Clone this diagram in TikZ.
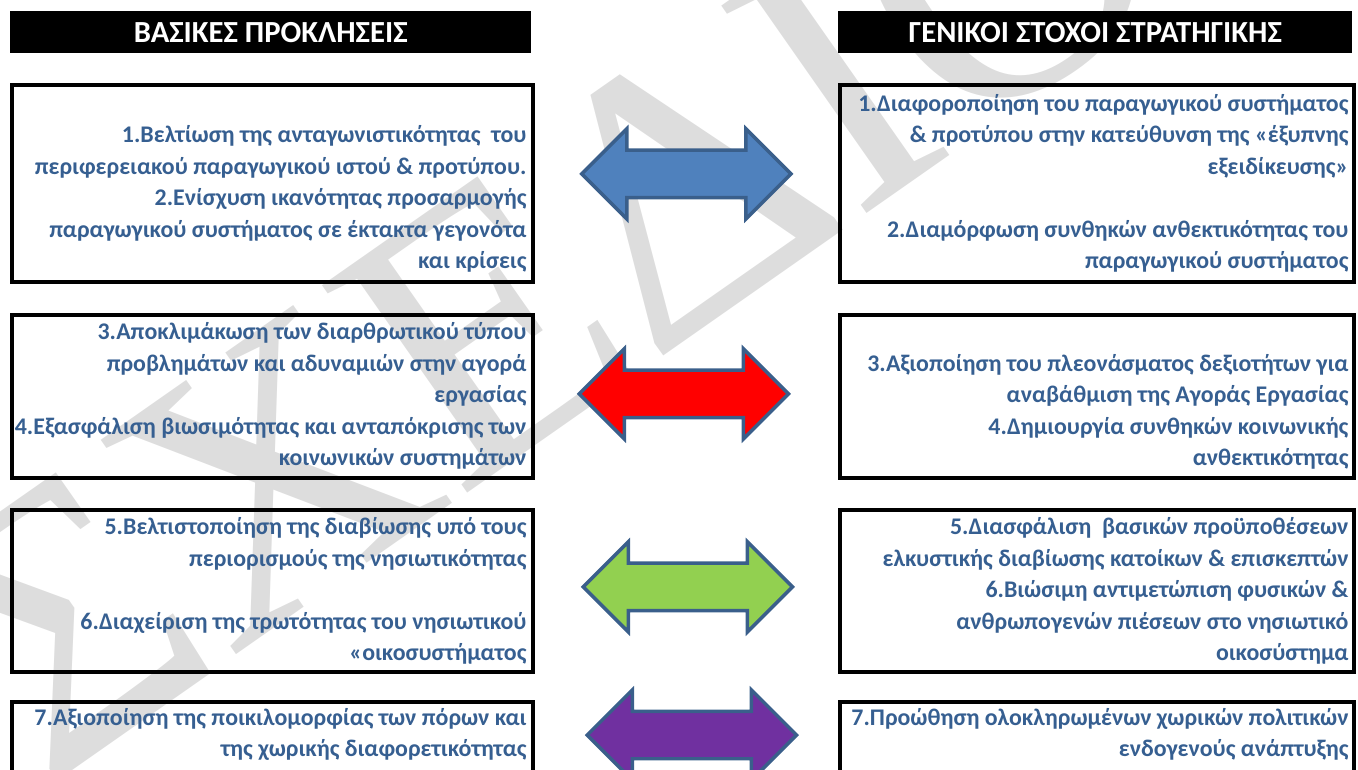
\documentclass[tikz,border=0pt]{standalone}
\usepackage{fontspec}
\setmainfont{Carlito}
\newfontfamily\wmfont{Liberation Serif}
\usetikzlibrary{shapes.arrows,calc}

\definecolor{txtblue}{HTML}{365F91}
\definecolor{arrline}{HTML}{3A5F8B}
\definecolor{arrblue}{HTML}{4F81BD}
\definecolor{arrred}{HTML}{FF0000}
\definecolor{arrgreen}{HTML}{92D050}
\definecolor{arrpurple}{HTML}{7030A0}
\definecolor{wmgray}{HTML}{DDDDDD}

\tikzset{
  box/.style={draw=black, line width=2.8pt, rectangle, anchor=north west, inner sep=0pt},
  headbar/.style={fill=black, rectangle, anchor=north west, inner sep=0pt, text=white,
    font=\bfseries\fontsize{23}{26}\selectfont},
  boxtext/.style={align=right, text=txtblue, inner sep=0pt,
    font=\bfseries\fontsize{17.9}{23.6}\selectfont},
  linkarrow/.style={double arrow, draw=arrline, line width=2.6pt, inner xsep=0pt, inner ysep=16.5pt,
    minimum height=157pt, double arrow head extend=16pt}
}

\begin{document}
\begin{tikzpicture}[x=0.75pt, y=-0.75pt]

\useasboundingbox (0,0) rectangle (1358,769);

% watermark
\node [rotate=35, text=wmgray, inner sep=0pt, font=\wmfont\fontsize{290}{290}\selectfont] (wm) at (545,285) {ΣΧΕΔΙΟ};

\def\leftw{390.75pt}
\def\rightw{385.5pt}

% headers
\node [headbar, minimum width=\leftw, minimum height=31.5pt] (hl) at (10,11) {ΒΑΣΙΚΕΣ ΠΡΟΚΛΗΣΕΙΣ};
\node [headbar, minimum width=\rightw, minimum height=31.5pt] (hr) at (838,11) {ΓΕΝΙΚΟΙ ΣΤΟΧΟΙ ΣΤΡΑΤΗΓΙΚΗΣ};

% boxes
\node [box, minimum width=\leftw, minimum height=147.75pt] (l1) at (10,83) {};
\node [box, minimum width=\rightw, minimum height=147.75pt] (r1) at (838,83) {};
\node [box, minimum width=\leftw, minimum height=122.25pt] (l2) at (10,313) {};
\node [box, minimum width=\rightw, minimum height=122.25pt] (r2) at (838,313) {};
\node [box, minimum width=\leftw, minimum height=121.5pt] (l3) at (10,508) {};
\node [box, minimum width=\rightw, minimum height=121.5pt] (r3) at (838,508) {};
\node [box, minimum width=\leftw, minimum height=80pt] (l4) at (10,700) {};
\node [box, minimum width=\rightw, minimum height=80pt] (r4) at (838,700) {};

% texts
\node [boxtext, anchor=south east] (t1l) at ($(l1.south east)+(-8,-11)$) {1.Βελτίωση της ανταγωνιστικότητας\ \ του\\
περιφερειακού παραγωγικού ιστού \& προτύπου.\\
2.Ενίσχυση ικανότητας προσαρμογής\\
παραγωγικού συστήματος σε έκτακτα γεγονότα\\
και κρίσεις};
\node [boxtext, anchor=south east] (t1r) at ($(r1.south east)+(-7,-11)$) {1.Διαφοροποίηση του παραγωγικού συστήματος\\
\& προτύπου στην κατεύθυνση της «έξυπνης\\
εξειδίκευσης»\\[23.6pt]
2.Διαμόρφωση συνθηκών ανθεκτικότητας του\\
παραγωγικού συστήματος};

\node [boxtext, anchor=south east] (t2l) at ($(l2.south east)+(-8,-10)$) {3.Αποκλιμάκωση των διαρθρωτικού τύπου\\
προβλημάτων και αδυναμιών στην αγορά\\
εργασίας\\
4.Εξασφάλιση βιωσιμότητας και ανταπόκρισης των\\
κοινωνικών συστημάτων};
\node [boxtext, anchor=south east] (t2r) at ($(r2.south east)+(-7,-10)$) {3.Αξιοποίηση του πλεονάσματος δεξιοτήτων για\\
αναβάθμιση της Αγοράς Εργασίας\\
4.Δημιουργία συνθηκών κοινωνικής\\
ανθεκτικότητας};

\node [boxtext, anchor=south east] (t3l) at ($(l3.south east)+(-8,-9)$) {5.Βελτιστοποίηση της διαβίωσης υπό τους\\
περιορισμούς της νησιωτικότητας\\[23.6pt]
6.Διαχείριση της τρωτότητας του νησιωτικού\\
«οικοσυστήματος};
\node [boxtext, anchor=south east] (t3r) at ($(r3.south east)+(-7,-9)$) {5.Διασφάλιση\ \ βασικών προϋποθέσεων\\
ελκυστικής διαβίωσης κατοίκων \& επισκεπτών\\
6.Βιώσιμη αντιμετώπιση φυσικών \&\\
ανθρωπογενών πιέσεων στο νησιωτικό\\
οικοσύστημα};

\node [boxtext, anchor=north east] (t4l) at ($(l4.north east)+(-8,8)$) {7.Αξιοποίηση της ποικιλομορφίας των πόρων και\\
της χωρικής διαφορετικότητας};
\node [boxtext, anchor=north east] (t4r) at ($(r4.north east)+(-7,8)$) {7.Προώθηση ολοκληρωμένων χωρικών πολιτικών\\
ενδογενούς ανάπτυξης};

% arrows between the pairs
\node [linkarrow, fill=arrblue] (a1) at ($(l1.east)!.5!(r1.west)+(0,-9.5)$) {};
\node [linkarrow, fill=arrred] (a2) at ($(l2.east)!.5!(r2.west)+(-2.5,-2.5)$) {};
\node [linkarrow, fill=arrgreen] (a3) at ($(l3.east)!.5!(r3.west)+(1.5,-4)$) {};
\node [linkarrow, fill=arrpurple] (a4) at ($(l4.north east)!.5!(r4.north west)+(5.5,35)$) {};

\end{tikzpicture}
\end{document}
